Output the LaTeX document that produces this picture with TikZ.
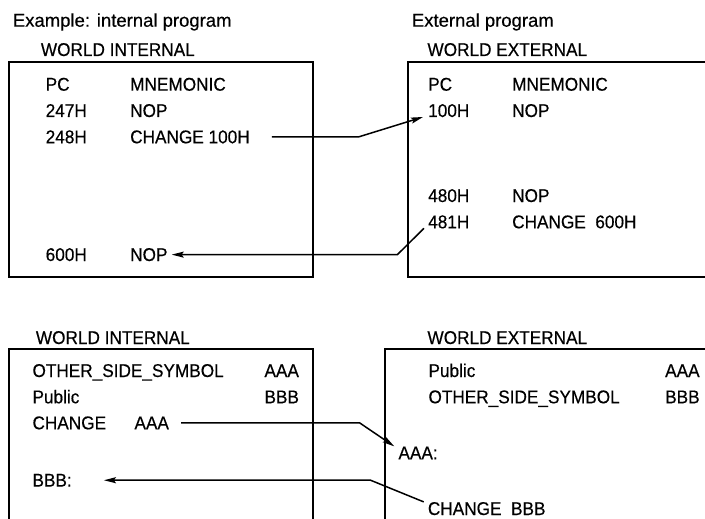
\documentclass[tikz,border=0pt]{standalone}
\usepackage{fontspec}
\setmainfont[FakeStretch=0.93, FakeBold=0.4]{Liberation Sans}
\newfontfamily\wideface[FakeBold=0.4]{Liberation Sans}
\usetikzlibrary{arrows.meta}
\tikzset{
    lbl/.style={anchor=base west, inner sep=0pt, font=\fontsize{18.5}{21}\selectfont},
    caption/.style={lbl, font=\fontsize{18.5}{21}\selectfont\wideface},
    frame/.style={line width=2pt},
    conn/.style={line width=1.5pt},
    >={Stealth[length=12pt, width=6pt, inset=2pt]}
}

\begin{document}
\begin{tikzpicture}[x=1pt, y=-1pt]
    \useasboundingbox (0,0) rectangle (705,519);
    % upper pair: PC / MNEMONIC listings
    \node (capL) [caption] at (12.7,26.7) {Example: internal program};
    \node (capR) [caption] at (411.7,26.7) {External program};
    \node (wIntA) [lbl] at (40.7,56) {WORLD INTERNAL};
    \node (wExtA) [lbl] at (427.3,56) {WORLD EXTERNAL};
    \draw[frame] (9.3,61.7) rectangle (312.7,277.3);
    \draw[frame] (705,61.7) -- (408,61.7) -- (408,277.3) -- (705,277.3);
    \foreach \pc/\mn/\y [count=\i] in {PC/MNEMONIC/90.7, 247H/NOP/117, 248H/CHANGE 100H/143.3, 600H/NOP/261} {
        \node (pcL\i) [lbl] at (45.5,\y) {\pc};
        \node (mnL\i) [lbl] at (130,\y) {\mn};
    }
    \foreach \pc/\mn/\y [count=\i] in {PC/MNEMONIC/90.7, 100H/NOP/117, 480H/NOP/202, 481H/CHANGE\ \ 600H/228.3} {
        \node (pcR\i) [lbl] at (428,\y) {\pc};
        \node (mnR\i) [lbl] at (512,\y) {\mn};
    }
    \draw[conn, ->] ([xshift=22pt]mnL3.east) -- ++(86.6,0) -- ([xshift=-5pt]pcR2.base west);
    \draw[conn, <-] ([xshift=4pt]mnL4.east) -- ++(225.7,0) -- ([xshift=-4pt]pcR4.base west);
    % lower pair: symbols on the other side
    \node (wIntB) [lbl] at (35.7,344) {WORLD INTERNAL};
    \node (wExtB) [lbl] at (427.3,344) {WORLD EXTERNAL};
    \draw[frame] (9.3,519) -- (9.3,349.3) -- (312.7,349.3) -- (312.7,519);
    \draw[frame] (705,349.3) -- (385,349.3) -- (385,519);
    \node (symL) [lbl] at (32.3,377) {OTHER\_SIDE\_SYMBOL};
    \node (symLv) [lbl] at (264.3,377) {AAA};
    \node (pubL) [lbl] at (32.3,403.3) {Public};
    \node (pubLv) [lbl] at (264.3,403.3) {BBB};
    \node (chgL) [lbl] at (32.3,429.3) {CHANGE};
    \node (chgLv) [lbl] at (134.3,429.3) {AAA};
    \node (bbbL) [lbl] at (32.3,486.6) {BBB:};
    \node (pubR) [lbl] at (428.3,377) {Public};
    \node (pubRv) [lbl] at (665,377) {AAA};
    \node (symR) [lbl] at (428.3,403.3) {OTHER\_SIDE\_SYMBOL};
    \node (symRv) [lbl] at (665,403.3) {BBB};
    \node (aaaR) [lbl] at (398.3,459.3) {AAA:};
    \node (chgR) [lbl] at (427.7,515) {CHANGE\ \ BBB};
    \draw[conn, ->] ([xshift=12pt]chgLv.east) -- ++(178.6,0) -- ([xshift=-4pt]aaaR.north west);
    \draw[conn, <-] ([xshift=32pt]bbbL.east) -- ++(266.7,0) -- ([xshift=-4pt]chgR.north west);
\end{tikzpicture}
\end{document}
